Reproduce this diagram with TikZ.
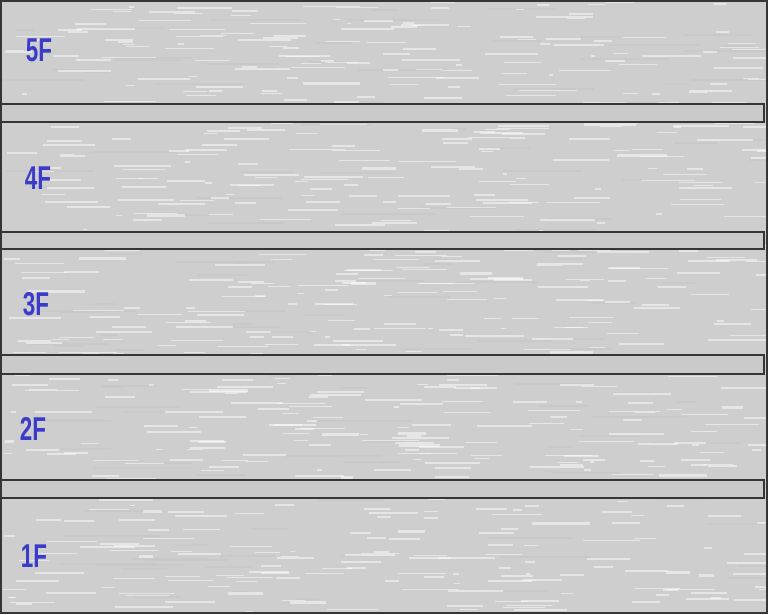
\documentclass[tikz,border=0pt]{standalone}
\usepackage{fontspec}
\setmainfont{Liberation Sans}
\usepackage{graphicx}
\usetikzlibrary{positioning}
\definecolor{floorfill}{HTML}{CECECE}
\definecolor{slabfill}{HTML}{CACACA}
\definecolor{labelblue}{HTML}{3B3BC9}
\definecolor{edgeline}{HTML}{363636}

\begin{document}
\begin{tikzpicture}[x=1pt, y=-1pt,
  floorlbl/.style={font=\bfseries\fontsize{33}{33}\selectfont, text=labelblue, inner sep=0pt},
  slab/.style={fill=slabfill, draw=edgeline, line width=2.2pt},
  streak/.style={white, opacity=0.5}]
  \useasboundingbox (0,0) rectangle (768,614);
  %% Floors: grey ground with streaky texture
  \begin{scope}
    \clip (0,0) rectangle (768,614);
    \fill[floorfill] (0,0) rectangle (768,614);
    \pgfmathsetseed{7}
    \foreach \i in {1,...,160}{
      \pgfmathsetmacro{\sx}{rnd*760}
      \pgfmathsetmacro{\sy}{rnd*614}
      \pgfmathsetmacro{\sl}{10+rnd*90}
      \draw[gray!45, opacity=0.5, line width=2pt] (\sx,\sy) -- ++(\sl,0);
    }
    \foreach \i in {1,...,800}{
      \pgfmathsetmacro{\sx}{rnd*760}
      \pgfmathsetmacro{\sy}{rnd*614}
      \pgfmathsetmacro{\sl}{4+rnd*55}
      \pgfmathsetmacro{\sw}{0.8+rnd*1.6}
      \draw[streak, line width=\sw pt] (\sx,\sy) -- ++(\sl,0);
    }
  \end{scope}

  % Slabs between floors
  \foreach \ya/\yb in {104/122, 232/249, 355/374, 480/498}{
    \draw[slab] (1,\ya) rectangle (764,\yb);
  }
  % Outer frame
  \draw[edgeline, line width=2pt] (1,1) rectangle (767,613);

  % Floor labels
  \foreach \n/\x/\y in {5/39/50, 4/38/178, 3/36/304, 2/33/429, 1/34/556}{
    \node[floorlbl] (f\n) at (\x,\y) {\scalebox{0.68}[1]{\n F}};
  }
\end{tikzpicture}
\end{document}
